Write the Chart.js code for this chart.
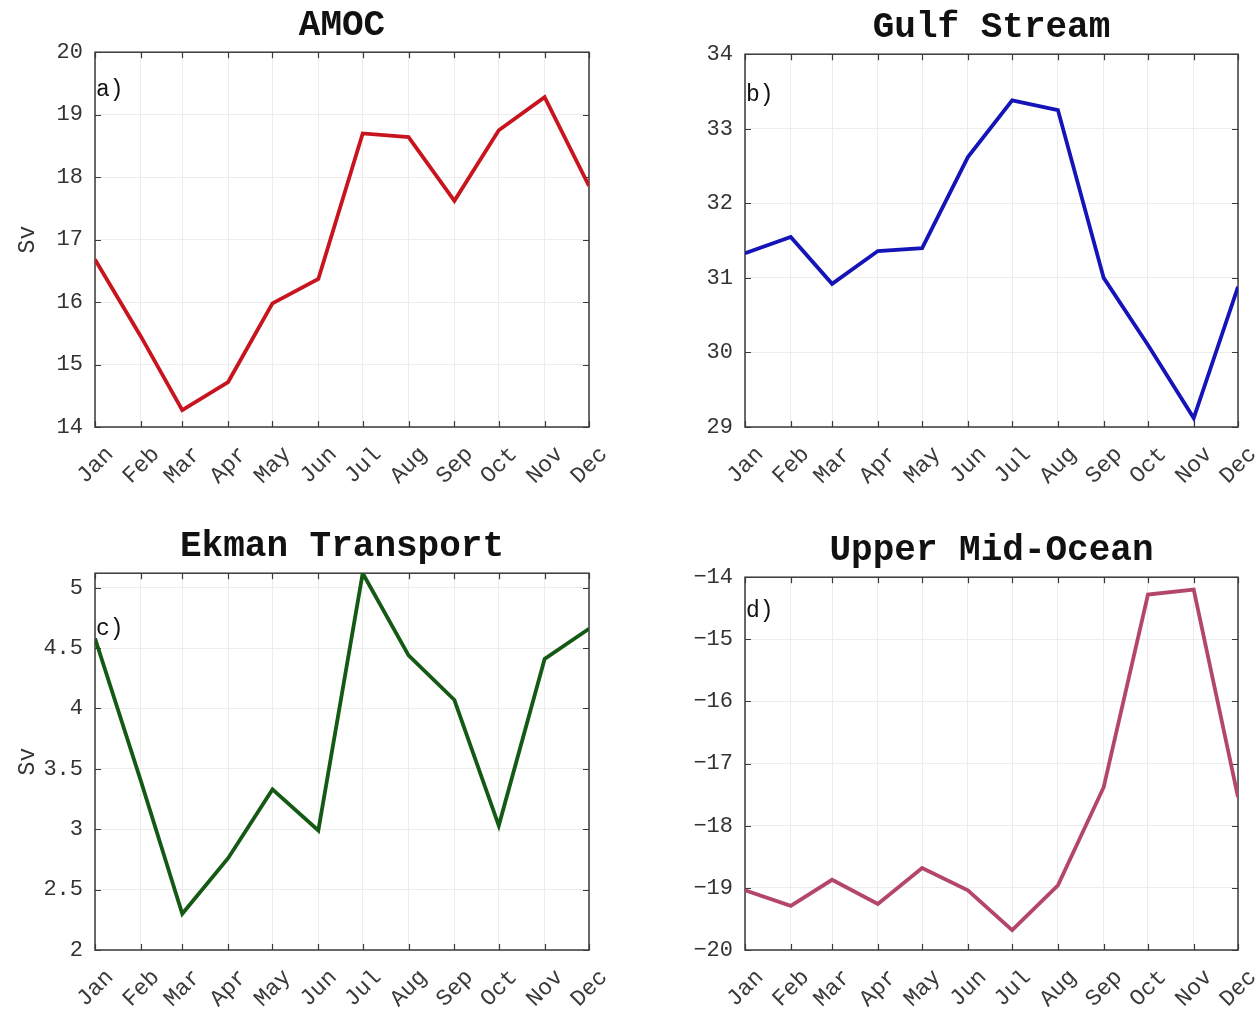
<!DOCTYPE html>
<html>
<head>
<meta charset="utf-8">
<title>Seasonal cycle of transports</title>
<script src="https://cdn.jsdelivr.net/npm/chart.js@4.4.1/dist/chart.umd.min.js"></script>
<style>
  html, body { margin: 0; padding: 0; background: #fff; }
  #wrap { position: relative; width: 1260px; height: 1024px; overflow: hidden; }
  .cell { position: absolute; }
  canvas { display: block; }
</style>
</head>
<body>
<div id="wrap">
  <div class="cell" style="left:0;top:0;"><canvas id="amocChart" width="630" height="512"></canvas></div>
  <div class="cell" style="left:630px;top:0;"><canvas id="gulfChart" width="630" height="512"></canvas></div>
  <div class="cell" style="left:0;top:512px;"><canvas id="ekmanChart" width="630" height="512"></canvas></div>
  <div class="cell" style="left:630px;top:512px;"><canvas id="umoChart" width="630" height="512"></canvas></div>
</div>
<script>
// Month names and the day of year (from 1 Jan) on which each month starts
const months   = ['Jan','Feb','Mar','Apr','May','Jun','Jul','Aug','Sep','Oct','Nov','Dec'];
const monthDay = [0, 31, 59, 90, 120, 151, 181, 212, 243, 273, 304, 334];

// Monthly mean transports (Sv)
const amoc          = [16.68, 15.45, 14.27, 14.72, 15.98, 16.37, 18.70, 18.64, 17.62, 18.75, 19.28, 17.86];
const gulfStream    = [31.33, 31.55, 30.92, 31.36, 31.40, 32.62, 33.38, 33.25, 31.00, 30.10, 29.12, 30.88];
const ekman         = [4.58, 3.40, 2.30, 2.76, 3.33, 2.99, 5.12, 4.44, 4.07, 3.03, 4.41, 4.66];
const upperMidOcean = [-19.04, -19.29, -18.87, -19.26, -18.68, -19.04, -19.68, -18.96, -17.38, -14.28, -14.20, -17.54];

// y tick values of each panel
const amocTicks  = [14, 15, 16, 17, 18, 19, 20];
const gulfTicks  = [29, 30, 31, 32, 33, 34];
const ekmanTicks = [2, 2.5, 3, 3.5, 4, 4.5, 5];
const umoTicks   = [-20, -19, -18, -17, -16, -15, -14];

const FONT = "'Liberation Mono', 'Courier New', 'DejaVu Sans Mono', monospace";

// Axes box with inward ticks on all four sides, plus the panel letter
const framePlugin = {
  id: 'frame',
  beforeDatasetsDraw(chart) {
    const { ctx, chartArea: a, scales: { x, y } } = chart;
    ctx.save();
    ctx.strokeStyle = '#3a3a3a';
    ctx.lineWidth = 1.5;
    ctx.strokeRect(a.left, a.top, a.right - a.left, a.bottom - a.top);
    ctx.lineWidth = 1.2;
    const t = 6;
    ctx.beginPath();
    x.ticks.forEach(tk => {
      const px = Math.round(x.getPixelForValue(tk.value)) + 0.5;
      ctx.moveTo(px, a.bottom); ctx.lineTo(px, a.bottom - t);
      ctx.moveTo(px, a.top);    ctx.lineTo(px, a.top + t);
    });
    y.ticks.forEach(tk => {
      const py = Math.round(y.getPixelForValue(tk.value)) + 0.5;
      ctx.moveTo(a.left, py);  ctx.lineTo(a.left + t, py);
      ctx.moveTo(a.right, py); ctx.lineTo(a.right - t, py);
    });
    ctx.stroke();
    ctx.restore();
  },
  afterDatasetsDraw(chart, args, opts) {
    if (!opts.letter) return;
    const { ctx, chartArea: a, scales: { y } } = chart;
    ctx.save();
    ctx.font = '23px ' + FONT;
    ctx.fillStyle = '#111';
    ctx.textAlign = 'left';
    ctx.textBaseline = 'middle';
    ctx.fillText(opts.letter, a.left + 1, y.getPixelForValue(opts.letterAt));
    ctx.restore();
  }
};

function makeChart(id, cfg) {
  const ctx = document.getElementById(id);
  return new Chart(ctx, {
    type: 'line',
    data: {
      datasets: [{
        data: cfg.values.map((v, i) => ({ x: monthDay[i], y: v })),
        borderColor: cfg.color,
        borderWidth: 3.8,
        pointRadius: 0,
        tension: 0,
        fill: false
      }]
    },
    options: {
      responsive: false,
      animation: false,
      events: [],
      layout: { padding: { left: 0, right: cfg.padRight, top: 0, bottom: 0 } },
      plugins: {
        legend: { display: false },
        tooltip: { enabled: false },
        title: {
          display: true,
          text: cfg.title,
          fullSize: false,
          color: '#111',
          font: { family: FONT, size: 36, weight: 'bold', lineHeight: 1.2 },
          padding: { top: cfg.titleTop, bottom: cfg.titleBottom }
        },
        frame: { letter: cfg.letter, letterAt: cfg.letterAt }
      },
      scales: {
        x: {
          type: 'linear',
          min: monthDay[0],
          max: monthDay[monthDay.length - 1],
          afterBuildTicks: s => { s.ticks = monthDay.map(v => ({ value: v })); },
          afterFit: s => { s.height = cfg.xHeight; s.paddingLeft = 0; s.paddingRight = 0; },
          grid: { color: '#ececec', lineWidth: 1, drawTicks: false },
          border: { display: false },
          ticks: {
            autoSkip: false,
            minRotation: 45,
            maxRotation: 45,
            padding: 14,
            labelOffset: 15,
            color: '#3a3a3a',
            font: { family: FONT, size: 23 },
            callback: v => months[monthDay.indexOf(v)]
          }
        },
        y: {
          type: 'linear',
          min: cfg.ticks[0],
          max: cfg.yMax,
          afterBuildTicks: s => { s.ticks = cfg.ticks.map(v => ({ value: v })); },
          afterFit: s => { s.width = cfg.yWidth; s.paddingTop = 0; s.paddingBottom = 0; },
          grid: { color: '#ececec', lineWidth: 1, drawTicks: false },
          border: { display: false },
          title: {
            display: !!cfg.yLabel,
            text: cfg.yLabel || '',
            color: '#333',
            font: { family: FONT, size: 23 },
            padding: { top: 14, bottom: 0 }
          },
          ticks: {
            padding: 12,
            color: '#333',
            font: { family: FONT, size: 22 },
            callback: v => (v < 0 ? '\u2212' + Math.abs(v) : String(v))
          }
        }
      }
    },
    plugins: [framePlugin]
  });
}

makeChart('amocChart', {
  title: 'AMOC', values: amoc, color: '#c8141e', ticks: amocTicks, yMax: 20,
  yLabel: 'Sv', letter: 'a)', letterAt: 19.4,
  titleTop: 4, titleBottom: 5, xHeight: 85, yWidth: 95, padRight: 41
});
makeChart('gulfChart', {
  title: 'Gulf Stream', values: gulfStream, color: '#1414b8', ticks: gulfTicks, yMax: 34,
  yLabel: '', letter: 'b)', letterAt: 33.46,
  titleTop: 6, titleBottom: 5, xHeight: 85, yWidth: 115, padRight: 22
});
makeChart('ekmanChart', {
  title: 'Ekman Transport', values: ekman, color: '#145a14', ticks: ekmanTicks, yMax: 5.12,
  yLabel: 'Sv', letter: 'c)', letterAt: 4.66,
  titleTop: 13, titleBottom: 5, xHeight: 74, yWidth: 95, padRight: 41
});
makeChart('umoChart', {
  title: 'Upper Mid-Ocean', values: upperMidOcean, color: '#b4466e', ticks: umoTicks, yMax: -14,
  yLabel: '', letter: 'd)', letterAt: -14.55,
  titleTop: 17, titleBottom: 5, xHeight: 74, yWidth: 115, padRight: 22
});
</script>
</body>
</html>
